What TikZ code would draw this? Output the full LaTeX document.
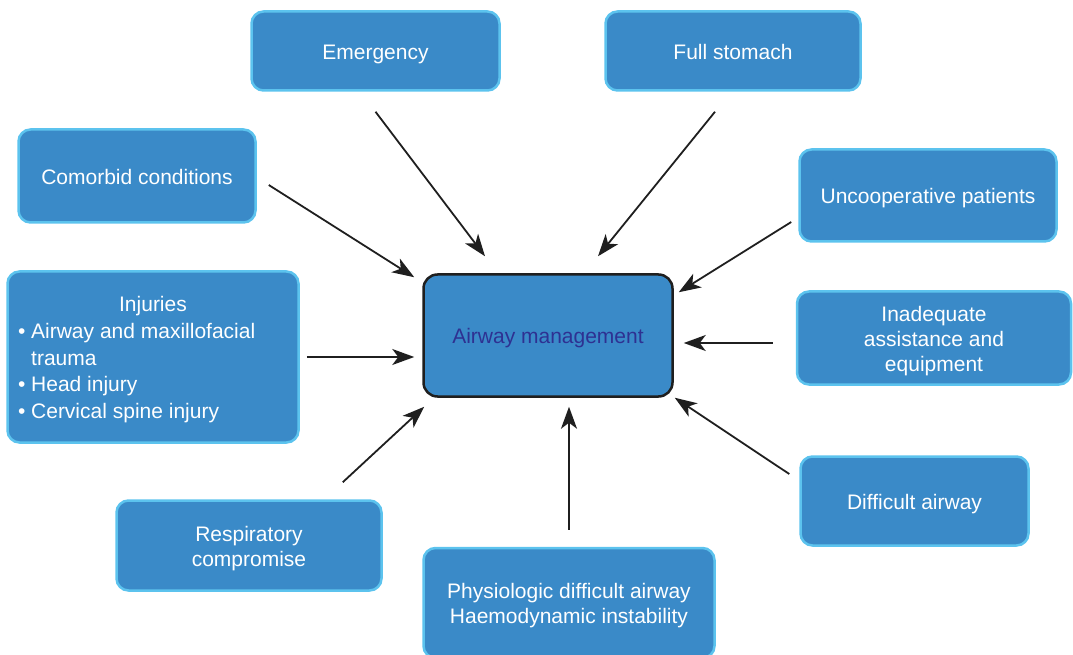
\documentclass[tikz,border=0pt]{standalone}
\usepackage{fontspec}
\setmainfont{Liberation Sans}
\usetikzlibrary{arrows.meta}
\definecolor{boxblue}{HTML}{3A8AC8}
\definecolor{boxedge}{HTML}{5CC3EE}
\definecolor{centretext}{HTML}{2E3192}

\begin{document}
\begin{tikzpicture}[x=1pt,y=1pt,
    factor/.style={draw=boxedge,line width=2.5pt,fill=boxblue,rounded corners=12pt,
        text=white,align=center,inner sep=0pt,font=\fontsize{21}{25}\selectfont,
        text height=21pt,text depth=4.5pt},
    lines/.style={text height={21pt+(#1-1)*25pt}},
    arr/.style={-{Stealth[length=22pt,width=16pt,inset=6pt]},line width=1.8pt,black!88}]
    \useasboundingbox (0,0) rectangle (1073,654);
    % the centre box
    \node[factor,draw=black!88,text=centretext,rounded corners=14pt,
        minimum width=249,minimum height=122] (air) at (548,318.5) {Airway management};
    % the boxes round it
    \node[factor,minimum width=248,minimum height=79] (emerg) at (375.5,603) {Emergency};
    \node[factor,minimum width=255,minimum height=79] (stomach) at (733,603) {Full stomach};
    \node[factor,minimum width=237,minimum height=93] (comorb) at (137,478) {Comorbid conditions};
    \node[factor,minimum width=257,minimum height=92] (uncoop) at (928,458.5) {Uncooperative patients};
    \node[factor,lines=3,minimum width=274,minimum height=93] (assist) at (934,316)
        {Inadequate\\assistance and\\equipment};
    \node[factor,minimum width=291,minimum height=171,align=left,
        font=\fontsize{21}{26.7}\selectfont,text height=127.8pt] (injury) at (153,297)
        {\makebox[270pt]{Injuries}\\
         \textbullet~Airway and maxillofacial\\
         \phantom{\textbullet~}trauma\\
         \textbullet~Head injury\\
         \textbullet~Cervical spine injury};
    \node[factor,lines=2,minimum width=265,minimum height=90] (resp) at (249,108.5) {Respiratory\\compromise};
    \node[factor,minimum width=228,minimum height=89] (diffair) at (914.5,153) {Difficult airway};
    \node[factor,lines=2,minimum width=291,minimum height=110] (physio) at (569,51)
        {Physiologic difficult airway\\Haemodynamic instability};
    % arrows into the centre box
    \draw[arr] ([yshift=-20]emerg.south) -- ([shift={(-63,17)}]air.north);
    \draw[arr] ([shift={(-18,-20)}]stomach.south) -- ([shift={(50,17)}]air.north);
    \draw[arr] ([shift={(12,-9)}]comorb.east) -- ([shift={(-8,-4)}]air.north west);
    \draw[arr] ([shift={(-7,-26.5)}]uncoop.west) -- ([shift={(5,-19)}]air.north east);
    \draw[arr] ([shift={(-23,-5)}]assist.west) -- ([shift={(10,-7.5)}]air.east);
    \draw[arr] ([xshift=7]injury.east) -- ([shift={(-8,-21.5)}]air.west);
    \draw[arr] ([shift={(-40,17)}]resp.north east) -- ([shift={(2,-9)}]air.south west);
    \draw[arr] ([yshift=17]physio.north) -- ([shift={(21,-9)}]air.south);
    \draw[arr] ([shift={(-10,27)}]diffair.west) -- ([shift={(1,0)}]air.south east);
\end{tikzpicture}
\end{document}
